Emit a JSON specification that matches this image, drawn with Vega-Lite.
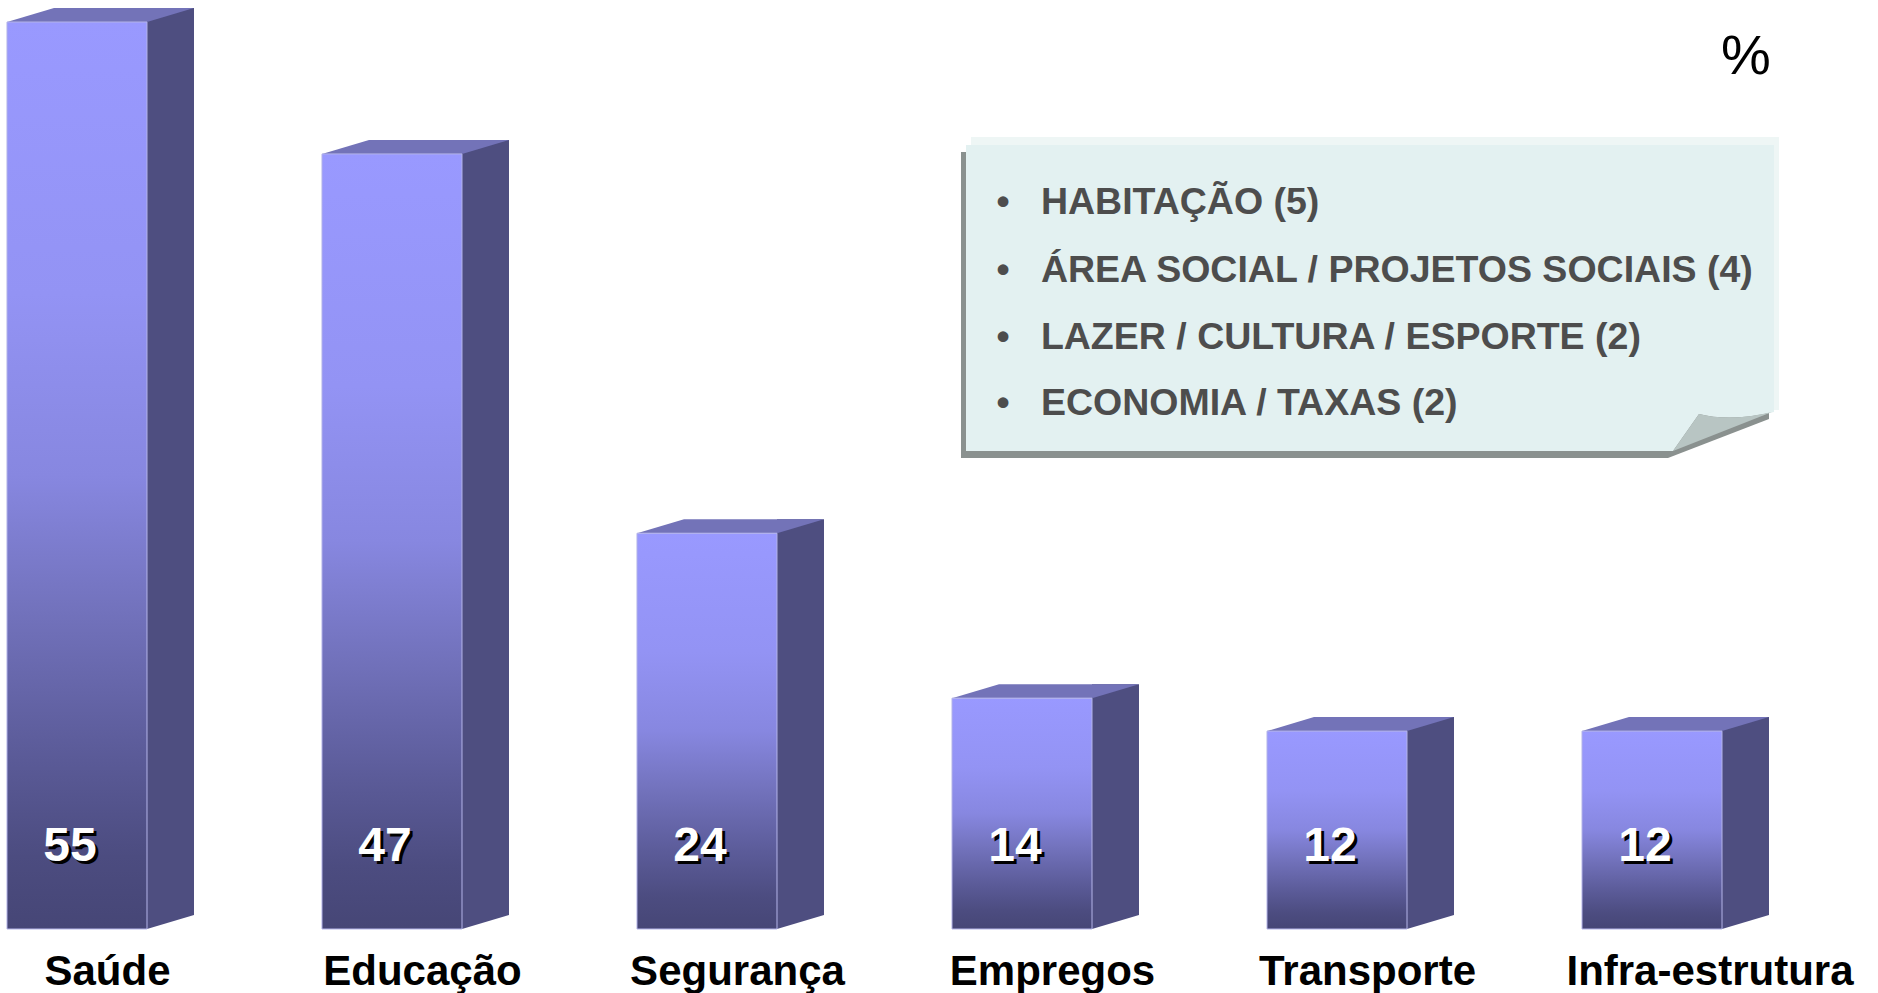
{
  "$schema": "https://vega.github.io/schema/vega-lite/v6.json",
  "width": 1878,
  "height": 907,
  "autosize": {"type": "none"},
  "padding": {"left": 0, "right": 0, "top": 22, "bottom": 64},
  "background": "white",
  "config": {"view": {"stroke": null}},
  "datasets": {
    "temas": [
      {"tema": "Saúde", "pct": 55},
      {"tema": "Educação", "pct": 47},
      {"tema": "Segurança", "pct": 24},
      {"tema": "Empregos", "pct": 14},
      {"tema": "Transporte", "pct": 12},
      {"tema": "Infra-estrutura", "pct": 12}
    ],
    "notas": [
      {"item": "HABITAÇÃO", "n": 5},
      {"item": "ÁREA SOCIAL / PROJETOS SOCIAIS", "n": 4},
      {"item": "LAZER / CULTURA / ESPORTE", "n": 2},
      {"item": "ECONOMIA / TAXAS", "n": 2}
    ]
  },
  "layer": [
    {
      "data": {"name": "temas"},
      "mark": {"type": "bar", "width": 47, "xOffset": 19, "yOffset": -14, "fill": "#4e4e80"},
      "encoding": {
        "x": {"field": "tema", "type": "nominal", "scale": {"domain": ["Saúde", "Educação", "Segurança", "Empregos", "Transporte", "Infra-estrutura"], "paddingInner": 0.0381, "paddingOuter": 0}, "axis": null},
        "y": {"field": "pct", "type": "quantitative", "scale": {"domain": [0, 55], "nice": false, "zero": true}, "axis": null}
      }
    },
    {
      "data": {"name": "temas"},
      "mark": {"type": "point", "shape": "M69.5,-15 L117,-15 L117,-14 L70,0 L69.5,0 Z", "size": 4, "filled": true, "fill": "#4e4e80", "strokeWidth": 0, "opacity": 1, "xOffset": -74.5},
      "encoding": {"x": {"field": "tema", "type": "nominal", "axis": null}, "y": {"datum": 0, "axis": null}}
    },
    {
      "data": {"name": "temas"},
      "mark": {"type": "point", "shape": "M-70,0 L70,0 L117,-14 L-23,-14 Z", "size": 4, "filled": true, "fill": "#7373b8", "strokeWidth": 0, "opacity": 1, "xOffset": -74.5},
      "encoding": {"x": {"field": "tema", "type": "nominal", "axis": null}, "y": {"field": "pct", "type": "quantitative", "axis": null}}
    },
    {
      "data": {"name": "temas"},
      "mark": {
        "type": "bar", "width": 140, "xOffset": -74.5,
        "fill": {"gradient": "linear", "x1": 0, "y1": 0, "x2": 0, "y2": 1, "stops": [
          {"offset": 0, "color": "#9999ff"},
          {"offset": 0.3, "color": "#9393f4"},
          {"offset": 0.5, "color": "#8787e0"},
          {"offset": 0.65, "color": "#7272bc"},
          {"offset": 0.8, "color": "#5c5c9a"},
          {"offset": 0.92, "color": "#4c4c80"},
          {"offset": 1, "color": "#464676"}
        ]},
        "stroke": "#b4b4e8", "strokeWidth": 1
      },
      "encoding": {"x": {"field": "tema", "type": "nominal", "axis": null}, "y": {"field": "pct", "type": "quantitative", "axis": null}}
    },
    {
      "data": {"name": "temas"},
      "mark": {"type": "text", "font": "Liberation Sans", "fontWeight": "bold", "fontSize": 48, "fill": "#000000", "align": "center", "baseline": "alphabetic", "xOffset": -78.5, "yOffset": -65},
      "encoding": {"x": {"field": "tema", "type": "nominal", "axis": null}, "y": {"datum": 0, "axis": null}, "text": {"field": "pct", "type": "quantitative"}}
    },
    {
      "data": {"name": "temas"},
      "mark": {"type": "text", "font": "Liberation Sans", "fontWeight": "bold", "fontSize": 48, "fill": "#ffffff", "align": "center", "baseline": "alphabetic", "xOffset": -81.5, "yOffset": -68},
      "encoding": {"x": {"field": "tema", "type": "nominal", "axis": null}, "y": {"datum": 0, "axis": null}, "text": {"field": "pct", "type": "quantitative"}}
    },
    {
      "data": {"name": "temas"},
      "transform": [{"filter": "datum.tema != 'Infra-estrutura'"}],
      "mark": {"type": "text", "font": "Liberation Sans", "fontWeight": "bold", "fontSize": 42, "fill": "#000000", "align": "center", "baseline": "alphabetic", "xOffset": -44, "yOffset": 56},
      "encoding": {"x": {"field": "tema", "type": "nominal", "axis": null}, "y": {"datum": 0, "axis": null}, "text": {"field": "tema", "type": "nominal"}}
    },
    {
      "data": {"name": "temas"},
      "transform": [{"filter": "datum.tema == 'Infra-estrutura'"}],
      "mark": {"type": "text", "font": "Liberation Sans", "fontWeight": "bold", "fontSize": 42, "fill": "#000000", "align": "center", "baseline": "alphabetic", "xOffset": -16.5, "yOffset": 56},
      "encoding": {"x": {"field": "tema", "type": "nominal", "axis": null}, "y": {"datum": 0, "axis": null}, "text": {"field": "tema", "type": "nominal"}}
    },
    {
      "data": {"name": "temas"},
      "transform": [{"filter": "datum.tema == 'Empregos'"}],
      "mark": {"type": "point", "shape": "M-5,7 H803 V274 L702,313 H-5 Z", "size": 4, "filled": true, "fill": "#8a918f", "strokeWidth": 0, "opacity": 1, "xOffset": -130.5},
      "encoding": {"x": {"field": "tema", "type": "nominal", "axis": null}, "y": {"datum": 47.54, "axis": null}}
    },
    {
      "data": {"name": "temas"},
      "transform": [{"filter": "datum.tema == 'Empregos'"}],
      "mark": {"type": "point", "shape": "M5,-8 H813 V265 H5 Z", "size": 4, "filled": true, "fill": "#eef6f5", "strokeWidth": 0, "opacity": 1, "xOffset": -130.5},
      "encoding": {"x": {"field": "tema", "type": "nominal", "axis": null}, "y": {"datum": 47.54, "axis": null}}
    },
    {
      "data": {"name": "temas"},
      "transform": [{"filter": "datum.tema == 'Empregos'"}],
      "mark": {"type": "point", "shape": "M0,0 H808 V267 Q764,277 733,269 L707,306 H0 Z", "size": 4, "filled": true, "fill": "#e3f1f1", "strokeWidth": 0, "opacity": 1, "xOffset": -130.5},
      "encoding": {"x": {"field": "tema", "type": "nominal", "axis": null}, "y": {"datum": 47.54, "axis": null}}
    },
    {
      "data": {"name": "temas"},
      "transform": [{"filter": "datum.tema == 'Empregos'"}],
      "mark": {"type": "point", "shape": "M707,306 L733,269 Q764,277 806,267 Z", "size": 4, "filled": true, "fill": "#b8c5c3", "strokeWidth": 0, "opacity": 1, "xOffset": -130.5},
      "encoding": {"x": {"field": "tema", "type": "nominal", "axis": null}, "y": {"datum": 47.54, "axis": null}}
    },
    {
      "data": {"name": "notas"},
      "transform": [
        {"filter": "datum.item == 'HABITAÇÃO'"},
        {"calculate": "'•\u00a0\u00a0\u00a0' + datum.item + ' (' + datum.n + ')'", "as": "linha"},
        {"calculate": "'Empregos'", "as": "tema"}
      ],
      "mark": {"type": "text", "font": "Liberation Sans", "fontWeight": "bold", "fontSize": 37.5, "fill": "#4d4d4d", "align": "left", "baseline": "alphabetic", "xOffset": -100},
      "encoding": {"x": {"field": "tema", "type": "nominal", "axis": null}, "y": {"datum": 43.33, "axis": null}, "text": {"field": "linha", "type": "nominal"}}
    },
    {
      "data": {"name": "notas"},
      "transform": [
        {"filter": "datum.item == 'ÁREA SOCIAL / PROJETOS SOCIAIS'"},
        {"calculate": "'•\u00a0\u00a0\u00a0' + datum.item + ' (' + datum.n + ')'", "as": "linha"},
        {"calculate": "'Empregos'", "as": "tema"}
      ],
      "mark": {"type": "text", "font": "Liberation Sans", "fontWeight": "bold", "fontSize": 37.5, "fill": "#4d4d4d", "align": "left", "baseline": "alphabetic", "xOffset": -100},
      "encoding": {"x": {"field": "tema", "type": "nominal", "axis": null}, "y": {"datum": 39.26, "axis": null}, "text": {"field": "linha", "type": "nominal"}}
    },
    {
      "data": {"name": "notas"},
      "transform": [
        {"filter": "datum.item == 'LAZER / CULTURA / ESPORTE'"},
        {"calculate": "'•\u00a0\u00a0\u00a0' + datum.item + ' (' + datum.n + ')'", "as": "linha"},
        {"calculate": "'Empregos'", "as": "tema"}
      ],
      "mark": {"type": "text", "font": "Liberation Sans", "fontWeight": "bold", "fontSize": 37.5, "fill": "#4d4d4d", "align": "left", "baseline": "alphabetic", "xOffset": -100},
      "encoding": {"x": {"field": "tema", "type": "nominal", "axis": null}, "y": {"datum": 35.2, "axis": null}, "text": {"field": "linha", "type": "nominal"}}
    },
    {
      "data": {"name": "notas"},
      "transform": [
        {"filter": "datum.item == 'ECONOMIA / TAXAS'"},
        {"calculate": "'•\u00a0\u00a0\u00a0' + datum.item + ' (' + datum.n + ')'", "as": "linha"},
        {"calculate": "'Empregos'", "as": "tema"}
      ],
      "mark": {"type": "text", "font": "Liberation Sans", "fontWeight": "bold", "fontSize": 37.5, "fill": "#4d4d4d", "align": "left", "baseline": "alphabetic", "xOffset": -100},
      "encoding": {"x": {"field": "tema", "type": "nominal", "axis": null}, "y": {"datum": 31.14, "axis": null}, "text": {"field": "linha", "type": "nominal"}}
    },
    {
      "data": {"name": "temas"},
      "transform": [{"filter": "datum.tema == 'Infra-estrutura'"}],
      "mark": {"type": "text", "text": "%", "font": "Liberation Sans", "fontSize": 56, "fill": "#000000", "align": "center", "baseline": "alphabetic", "xOffset": 19.5},
      "encoding": {"x": {"field": "tema", "type": "nominal", "axis": null}, "y": {"datum": 51.85, "axis": null}}
    }
  ]
}
